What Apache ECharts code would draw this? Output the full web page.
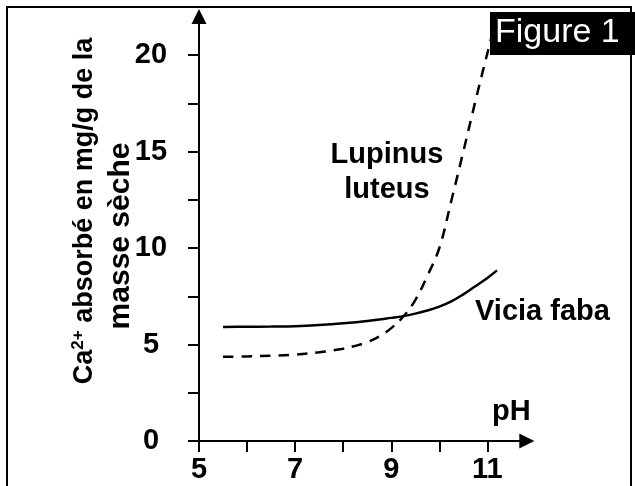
<!DOCTYPE html>
<html><head><meta charset="utf-8">
<script src="https://cdn.jsdelivr.net/npm/echarts@6/dist/echarts.min.js"></script>
<style>html,body{margin:0;padding:0;background:#fff}#c{width:635px;height:486px}</style>
</head><body><div id="c"></div>
<script>
// Data
const phVicia = [5.5, 6, 6.5, 7, 7.5, 8, 8.5, 9, 9.25, 9.5, 9.75, 10, 10.25, 10.5, 10.75, 11, 11.2];
const caVicia = [5.91, 5.92, 5.93, 5.95, 6.01, 6.1, 6.22, 6.38, 6.47, 6.6, 6.76, 6.96, 7.23, 7.6, 8.02, 8.45, 8.84];
const phLupinus = [5.5, 6, 6.5, 7, 7.5, 8, 8.25, 8.5, 8.75, 9, 9.25, 9.5, 9.75, 10, 10.25, 10.5, 10.75, 11, 11.2];
const caLupinus = [4.36, 4.38, 4.42, 4.48, 4.6, 4.78, 4.93, 5.12, 5.42, 5.85, 6.45, 7.3, 8.55, 10.0, 12.45, 15.0, 17.6, 20.1, 22.0];
const xTickValues = [5, 6, 7, 8, 9, 10, 11];
const xLabelValues = [5, 7, 9, 11];
const yTickValues = [0, 2.5, 5, 7.5, 10, 12.5, 15, 17.5, 20];
const yLabelValues = [0, 5, 10, 15, 20];

const FF = '"Liberation Sans", Arial, sans-serif';
const chart = echarts.init(document.getElementById('c'), null, {renderer: 'canvas'});
const axisLineStyle = {color: '#000', width: 2};
chart.setOption({
  animation: false,
  backgroundColor: '#fff',
  grid: {left: 199, top: 16.4, width: 327.8, height: 424.6},
  xAxis: {
    type: 'value', min: 5, max: 11.82,
    axisLine: {show: true, onZero: false, lineStyle: axisLineStyle, symbol: ['none', 'triangle'], symbolSize: [15, 15]},
    axisTick: {show: true, inside: false, length: 11, lineStyle: {color: '#000', width: 2}, customValues: xTickValues},
    axisLabel: {show: true, customValues: xLabelValues, margin: 14, color: '#000', fontFamily: FF, fontWeight: 'bold', fontSize: 29},
    splitLine: {show: false}
  },
  yAxis: {
    type: 'value', min: 0, max: 22,
    axisLine: {show: true, onZero: false, lineStyle: axisLineStyle, symbol: ['none', 'triangle'], symbolSize: [15, 15]},
    axisTick: {show: true, inside: false, length: 11, lineStyle: {color: '#000', width: 2}, customValues: yTickValues},
    axisLabel: {show: true, customValues: yLabelValues, margin: 48, align: 'center', color: '#000', fontFamily: FF, fontWeight: 'bold', fontSize: 29},
    splitLine: {show: false}
  },
  series: [
    {
      name: 'Vicia faba', type: 'line', smooth: 0.4, showSymbol: false, symbol: 'none',
      lineStyle: {color: '#000', width: 2.5, type: 'solid'},
      data: phVicia.map((p, i) => [p, caVicia[i]])
    },
    {
      name: 'Lupinus luteus', type: 'line', smooth: 0.4, showSymbol: false, symbol: 'none',
      lineStyle: {color: '#000', width: 2.5, type: [10.5, 8]},
      data: phLupinus.map((p, i) => [p, caLupinus[i]])
    }
  ],
  graphic: [
    {type: 'rect', z: 0, shape: {x: 7, y: 7, width: 624, height: 520}, style: {fill: 'none', stroke: '#000', lineWidth: 2}},
    {type: 'rect', z: 100, shape: {x: 490, y: 12, width: 145, height: 43}, style: {fill: '#000'}},
    {type: 'text', z: 101, x: 495, y: 33, style: {text: 'Figure 1', fill: '#fff', font: '34px ' + FF, align: 'left', verticalAlign: 'middle', textAlign: 'left', textVerticalAlign: 'middle'}},
    {type: 'text', z: 50, x: 387, y: 172, style: {text: 'Lupinus\nluteus', fill: '#000', font: 'bold 29px ' + FF, lineHeight: 35, align: 'center', verticalAlign: 'middle', textAlign: 'center', textVerticalAlign: 'middle'}},
    {type: 'text', z: 50, x: 475, y: 312, style: {text: 'Vicia faba', fill: '#000', font: 'bold 29px ' + FF, align: 'left', verticalAlign: 'middle', textAlign: 'left', textVerticalAlign: 'middle'}},
    {type: 'text', z: 50, x: 492, y: 412, style: {text: 'pH', fill: '#000', font: 'bold 29px ' + FF, align: 'left', verticalAlign: 'middle', textAlign: 'left', textVerticalAlign: 'middle'}},
    {type: 'text', z: 50, x: 85, y: 211, rotation: Math.PI / 2, style: {
      text: '{n|Ca}{sup|2+}{n| absorbé en mg/g de la}', fill: '#000', font: 'bold 27px ' + FF,
      align: 'center', verticalAlign: 'middle', textAlign: 'center', textVerticalAlign: 'middle',
      rich: {
        n: {fontFamily: FF, fontWeight: 'bold', fontSize: 27, fill: '#000', lineHeight: 30},
        sup: {fontFamily: FF, fontWeight: 'bold', fontSize: 17, fill: '#000', lineHeight: 18, padding: [0, 0, 14, 0]}
      }
    }},
    {type: 'text', z: 50, x: 121, y: 236, rotation: Math.PI / 2, style: {text: 'masse sèche', fill: '#000', font: 'bold 30px ' + FF, align: 'center', verticalAlign: 'middle', textAlign: 'center', textVerticalAlign: 'middle'}}
  ]
});
</script>
</body></html>
